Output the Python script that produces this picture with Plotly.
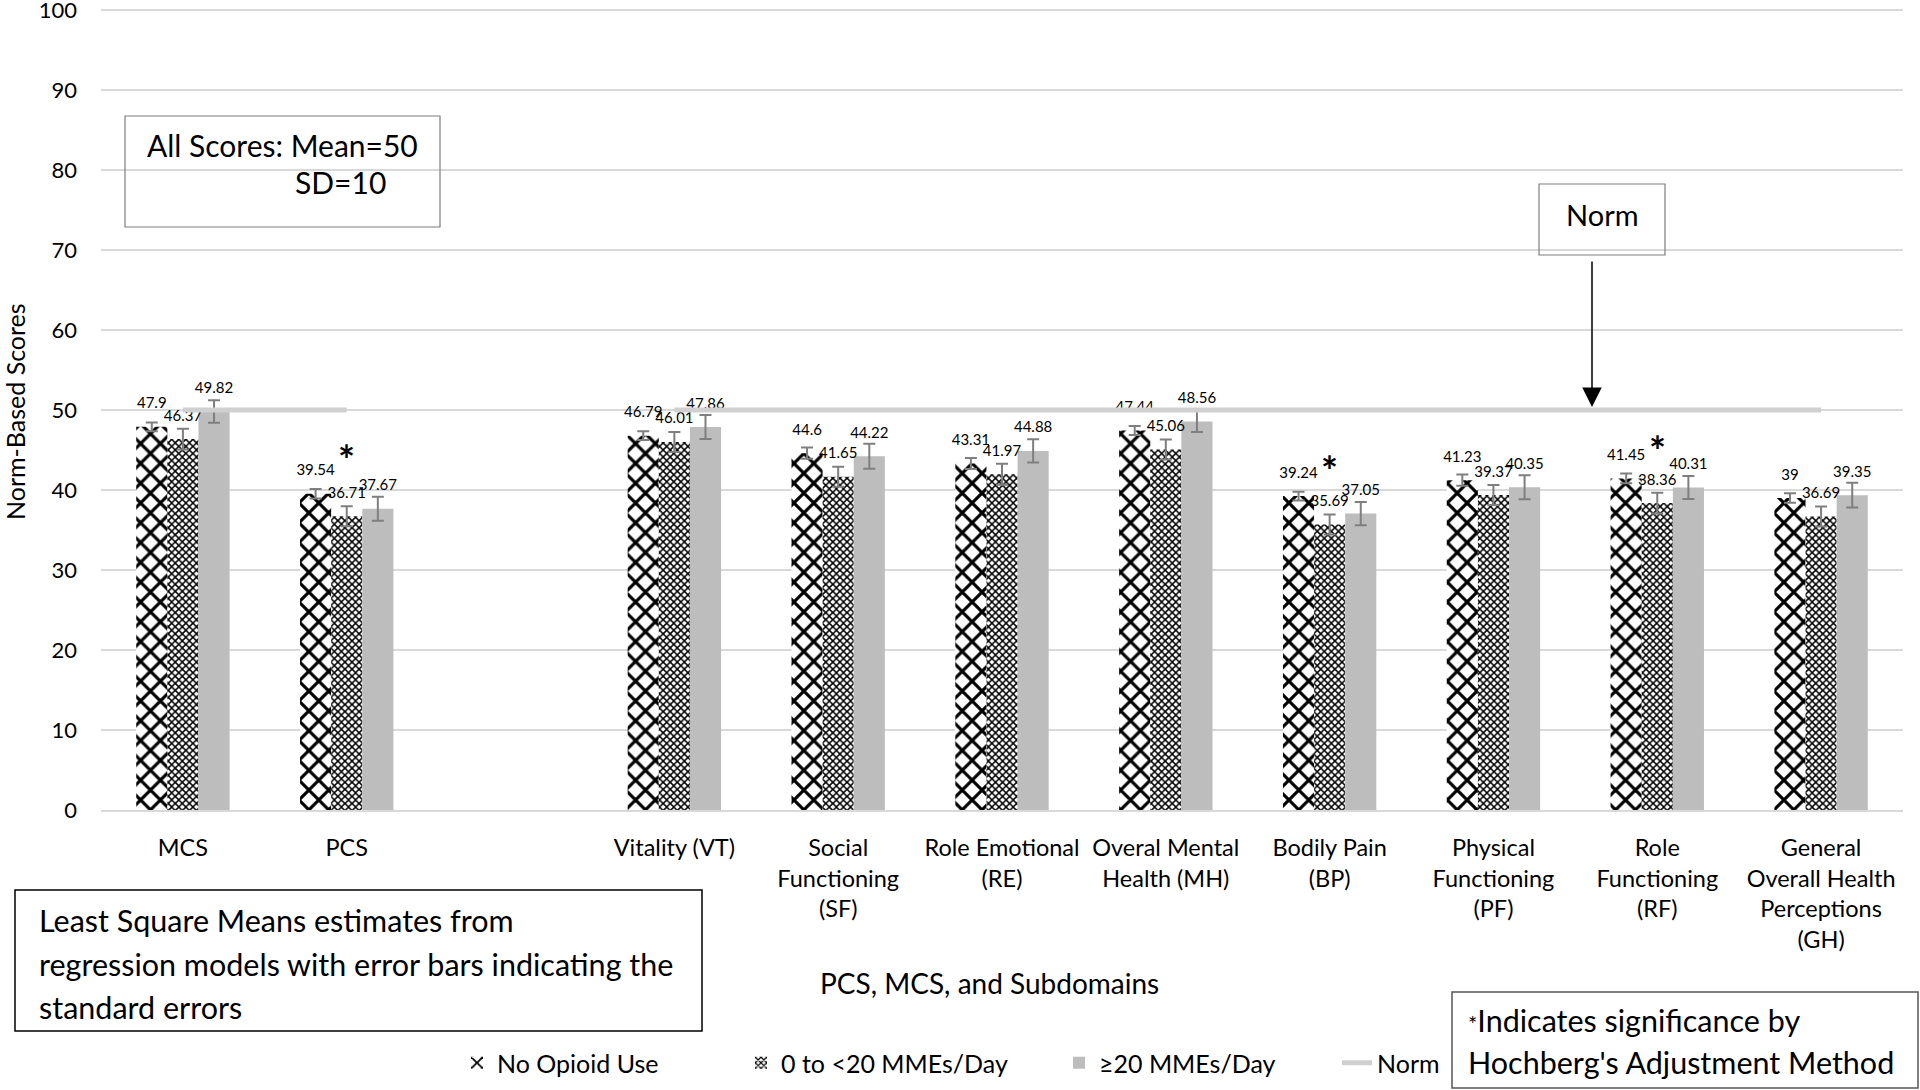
import plotly.graph_objects as go

# ---------------- data ----------------
categories = ["MCS", "PCS", " ", "Vitality (VT)", "Social<br>Functioning<br>(SF)",
              "Role Emotional<br>(RE)", "Overal Mental<br>Health (MH)", "Bodily Pain<br>(BP)",
              "Physical<br>Functioning<br>(PF)", "Role<br>Functioning<br>(RF)",
              "General<br>Overall Health<br>Perceptions<br>(GH)"]

series_names = ["No Opioid Use", "0 to <20 MMEs/Day", "≥20 MMEs/Day"]
no_opioid = [47.9, 39.54, None, 46.79, 44.6, 43.31, 47.44, 39.24, 41.23, 41.45, 39]
low_mme = [46.37, 36.71, None, 46.01, 41.65, 41.97, 45.06, 35.69, 39.37, 38.36, 36.69]
high_mme = [49.82, 37.67, None, 47.86, 44.22, 44.88, 48.56, 37.05, 40.35, 40.31, 39.35]

no_opioid_se = [0.55, 0.6, None, 0.55, 0.7, 0.7, 0.55, 0.55, 0.7, 0.6, 0.6]
low_mme_se = [1.3, 1.25, None, 1.25, 1.25, 1.3, 1.25, 1.25, 1.25, 1.3, 1.25]
high_mme_se = [1.4, 1.5, None, 1.5, 1.55, 1.45, 1.3, 1.45, 1.5, 1.45, 1.55]

norm = [50, 50, None, 50, 50, 50, 50, 50, 50, 50, 50]

sig_categories = ["PCS", "Bodily Pain<br>(BP)", "Role<br>Functioning<br>(RF)"]
sig_y = [43.8, 42.4, 44.9]

# ---------------- style ----------------
FONT = "Lato"
BLACK = "#000000"
W, H = 1920, 1090
PLOT_L, PLOT_R, PLOT_T, PLOT_B = 101, 1903, 8, 810
Y_MAX = 100.25


def px_x(px):
    return (px - PLOT_L) / (PLOT_R - PLOT_L)


def px_y(py):
    return (PLOT_B - py) / (PLOT_B - PLOT_T)


patterns = [
    dict(shape="x", size=14, solidity=0.4, fgcolor="#000000", bgcolor="#ffffff", fillmode="replace"),
    dict(shape="x", size=5, solidity=0.5, fgcolor="#000000", bgcolor="#ffffff", fillmode="replace"),
    None,
]
values = [no_opioid, low_mme, high_mme]
errors = [no_opioid_se, low_mme_se, high_mme_se]
legend_ids = ["legend", "legend2", "legend3"]

fig = go.Figure()

for i, (name, vals, errs, pat) in enumerate(zip(series_names, values, errors, patterns)):
    marker = dict(color="#bdbdbd", line=dict(width=0))
    if pat is not None:
        marker = dict(color="#ffffff", pattern=pat, line=dict(width=0))
    fig.add_trace(go.Bar(
        x=categories, y=vals, name=name, marker=marker, offsetgroup=str(i),
        error_y=dict(type="data", array=errs, visible=True, color="#7f7f7f", thickness=2, width=6),
        hoverinfo="skip", legend=legend_ids[i],
    ))

for i, vals in enumerate(values):
    fig.add_trace(go.Scatter(
        x=categories, y=vals, mode="markers+text", offsetgroup=str(i),
        text=[("" if v is None else f"{v:g}") for v in vals],
        textposition="top center",
        textfont=dict(family=FONT, size=15, color=BLACK),
        marker=dict(size=22, opacity=0, color="white"),
        showlegend=False, hoverinfo="skip", cliponaxis=False,
    ))

# norm reference line, placed at category centres (the middle offset group)
fig.add_trace(go.Scatter(
    x=categories, y=norm, name="Norm", mode="lines", offsetgroup="1",
    line=dict(color="#d0d0d0", width=5), connectgaps=False, hoverinfo="skip",
    legend="legend4",
))

annotations = []
for c, y in zip(sig_categories, sig_y):
    annotations.append(dict(x=c, y=y, xref="x", yref="y", text="<b>*</b>", showarrow=False,
                            font=dict(family=FONT, size=40, color=BLACK)))

shapes = [
    dict(type="rect", xref="paper", yref="paper", x0=px_x(125), x1=px_x(440), y0=px_y(227), y1=px_y(116),
         line=dict(color="#7f7f7f", width=1.2), fillcolor="rgba(0,0,0,0)"),
    dict(type="rect", xref="paper", yref="paper", x0=px_x(1539), x1=px_x(1665), y0=px_y(255), y1=px_y(184),
         line=dict(color="#7f7f7f", width=1.2), fillcolor="rgba(0,0,0,0)"),
    dict(type="rect", xref="paper", yref="paper", x0=px_x(15), x1=px_x(702), y0=px_y(1031), y1=px_y(890),
         line=dict(color="#000000", width=1.5), fillcolor="rgba(0,0,0,0)"),
    dict(type="rect", xref="paper", yref="paper", x0=px_x(1452), x1=px_x(1918), y0=px_y(1088), y1=px_y(992),
         line=dict(color="#555555", width=1.5), fillcolor="rgba(0,0,0,0)"),
]


def text_at(txt, x, y, size=30.5, anchor="left", angle=0):
    annotations.append(dict(x=px_x(x), y=px_y(y), xref="paper", yref="paper", text=txt, showarrow=False,
                            xanchor=anchor, yanchor="middle", textangle=angle,
                            font=dict(family=FONT, size=size, color=BLACK)))


text_at("All Scores: Mean=50", 145, 145, size=30)
text_at("SD=10", 293, 182, size=30)
text_at("Norm", 1602, 215, size=29, anchor="center")
text_at("Least Square Means estimates from", 37, 920)
text_at("regression models with error bars indicating the", 37, 964)
text_at("standard errors", 37, 1007)
text_at("<span style='font-size:22px'>*</span>Indicates significance by", 1466, 1020)
text_at("Hochberg's Adjustment Method", 1466, 1062)

# axis titles
text_at("PCS, MCS, and Subdomains", 989, 983, size=28, anchor="center")
text_at("Norm-Based Scores", 15, 412, size=25, anchor="center", angle=-90)

# arrow to the norm line
annotations.append(dict(x=px_x(1592), y=50, xref="paper", yref="y", text="", showarrow=True,
                        axref="pixel", ayref="pixel", ax=0, ay=-150, arrowhead=2, arrowsize=2.6,
                        arrowwidth=1.5, arrowcolor="#000000", standoff=3))

# legends: one per entry, placed where the reference shows them (x = where the label text starts)
legend_text_x = [498, 782, 1100, 1378]
legend_common = dict(orientation="h", yanchor="middle", xanchor="left", bgcolor="rgba(0,0,0,0)",
                     font=dict(family=FONT, size=25, color=BLACK), y=px_y(1063))
legend_layout = {}
for lid, tx in zip(["legend", "legend2", "legend3", "legend4"], legend_text_x):
    legend_layout[lid] = dict(legend_common, x=px_x(tx - 41))

fig.update_layout(
    width=W, height=H,
    margin=dict(l=PLOT_L, r=W - PLOT_R, t=PLOT_T, b=H - PLOT_B, autoexpand=False),
    paper_bgcolor="white", plot_bgcolor="white",
    font=dict(family=FONT, color=BLACK, size=22),
    barmode="group", bargap=0.43, bargroupgap=0,
    scattermode="group", scattergap=0.43,
    showlegend=True,
    xaxis=dict(type="category", categoryorder="array", categoryarray=categories,
               showgrid=False, showline=True, linecolor="#d9d9d9", linewidth=1.5,
               ticks="", tickfont=dict(family=FONT, size=23.5, color=BLACK), ticklabelstandoff=16),
    yaxis=dict(range=[0, Y_MAX], dtick=10, showgrid=True, gridcolor="#d9d9d9", gridwidth=1.5,
               zeroline=False, showline=False, ticks="", ticklabeloverflow="allow",
               tickfont=dict(family=FONT, size=22, color=BLACK), ticklabelstandoff=23),
    annotations=annotations,
    shapes=shapes,
    **legend_layout,
)

fig.write_html("out.html", config={"displayModeBar": False},
               post_script="document.body.style.margin='0px';")
